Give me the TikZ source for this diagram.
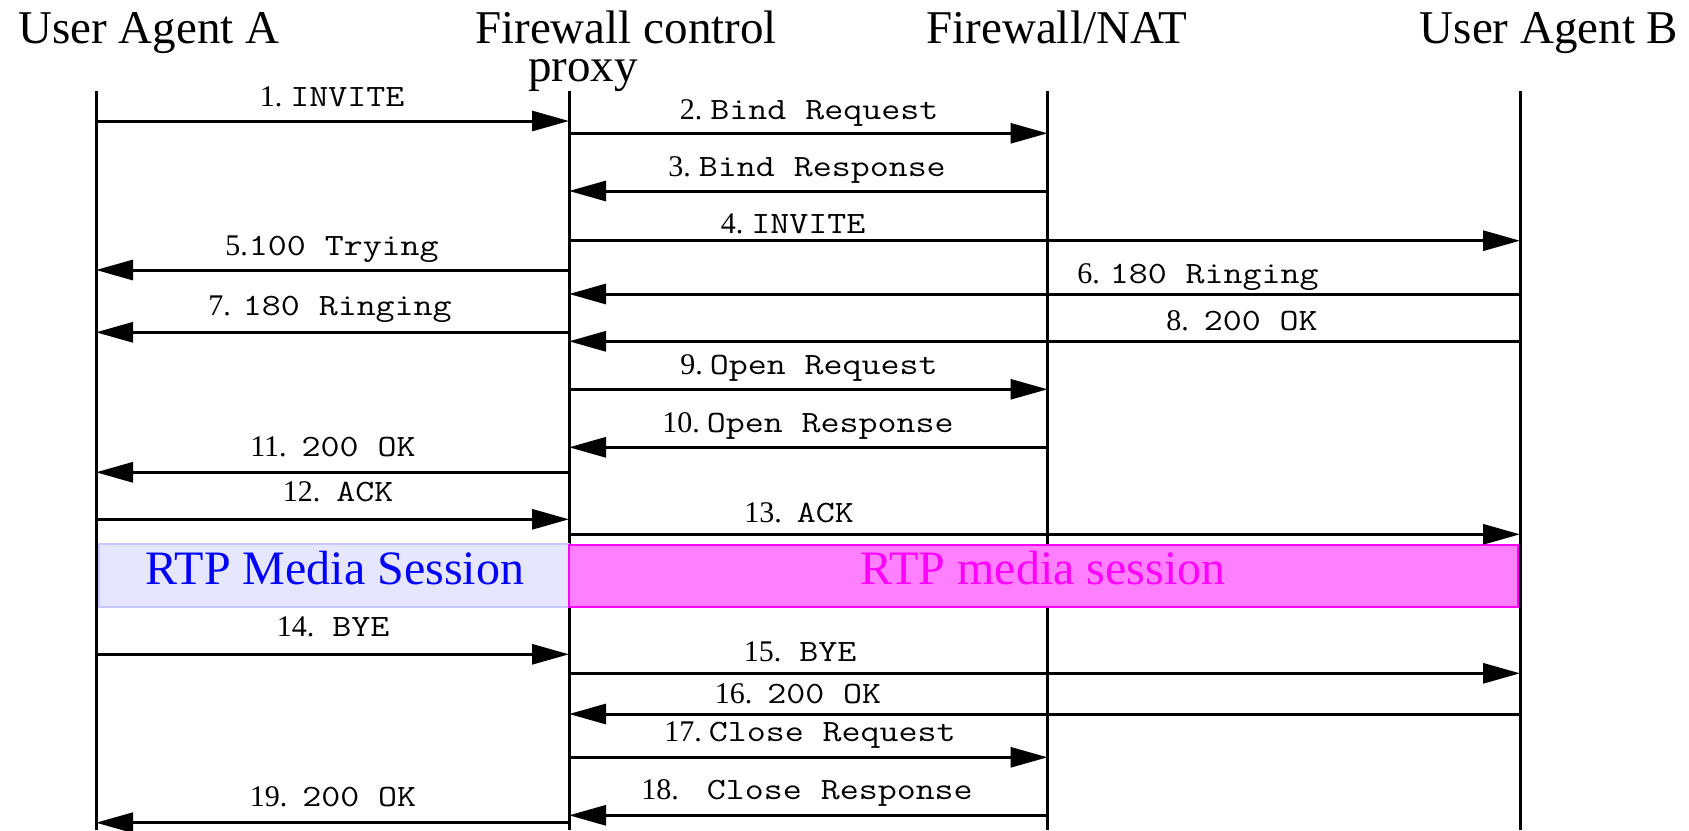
\documentclass[tikz,border=0pt]{standalone}
\usepackage{fontspec}
\setmainfont{Liberation Serif}
\usepackage{graphicx}
\usetikzlibrary{arrows.meta,calc}
\definecolor{rtpblfill}{HTML}{E6E6FF}
\definecolor{rtpbldraw}{HTML}{C8C8FF}
\definecolor{rtpblue}{HTML}{0000FF}
\definecolor{rtpmgfill}{HTML}{FF80FF}
\definecolor{rtpmg}{HTML}{FF00FF}
\newcommand\mlbl[3]{{\fontsize{30}{32}\selectfont #1}\hspace{#2}\scalebox{1.19}[1]{\fontsize{31}{33}\selectfont\ttfamily #3}}
\newcommand\msgarrow[3]{\draw[msg] ($(#1)+(0,#3)$) -- ($(#2)+(0,#3)$);}
\newcommand\msglabel[6]{\node[mlabel] (#1) at (#2,#3) {\mlbl{#4}{#5}{#6}};}
\begin{document}
\begin{tikzpicture}[x=1pt,y=-1pt,
  lifeline/.style={line width=3pt},
  msg/.style={line width=3pt,-{Triangle[length=37pt,width=20pt]}},
  head/.style={inner sep=0pt,anchor=base,font=\fontsize{47}{50}\selectfont},
  mlabel/.style={inner sep=0pt,anchor=base},
  rtptext/.style={inner sep=0pt,anchor=base,font=\fontsize{48}{50}\selectfont}]
\useasboundingbox (0,0) rectangle (1689,830);

% headings
\node[head] (hA) at (149,43) {User Agent A};
\node[head] (hP) at (626,43) {Firewall control};
\node[head] (hP2) at (583,81) {proxy};
\node[head] (hF) at (1057,43) {Firewall/NAT};
\node[head] (hB) at (1549,43) {User Agent B};

% lifelines
\coordinate (A) at (96,0);
\coordinate (P) at (569,0);
\coordinate (F) at (1047.5,0);
\coordinate (B) at (1520,0);
\foreach \l in {A,P,F,B}{
  \draw[lifeline] ($(\l)+(0,91)$) -- ($(\l)+(0,830)$);
}

% RTP boxes
\path[draw=rtpbldraw,fill=rtpblfill,line width=2pt] (98.6,544) rectangle (569,606.5);
\node[rtptext,text=rtpblue] (rtpA) at (335,584) {RTP Media Session};
\path[draw=rtpmg,fill=rtpmgfill,line width=2pt] (569,545) rectangle (1517.5,606.5);
\node[rtptext,text=rtpmg] (rtpB) at (1043,584) {RTP media session};

% messages
\msgarrow{A}{P}{121}
\msglabel{m1}{332}{106}{1.}{8pt}{INVITE}
\msgarrow{P}{F}{133.3}
\msglabel{m2}{809}{119}{2.}{8pt}{Bind Request}
\msgarrow{F}{P}{191}
\msglabel{m3}{807}{176.7}{3.}{8pt}{Bind Response}
\msgarrow{P}{B}{240.7}
\msglabel{m4}{793}{233}{4.}{8pt}{INVITE}
\msgarrow{P}{A}{270}
\msglabel{m5}{332}{255}{5.}{1pt}{100 Trying}
\msgarrow{B}{P}{294}
\msglabel{m6}{1198}{283}{6.}{10pt}{180 Ringing}
\msgarrow{P}{A}{332.3}
\msglabel{m7}{330}{315}{7.}{12pt}{180 Ringing}
\msgarrow{B}{P}{341.3}
\msglabel{m8}{1242}{330.7}{8.}{15pt}{200 OK}
\msgarrow{P}{F}{389.3}
\msglabel{m9}{809}{374.3}{9.}{7pt}{Open Request}
\msgarrow{F}{P}{447.3}
\msglabel{m10}{808}{432.7}{10.}{7pt}{Open Response}
\msgarrow{P}{A}{472.3}
\msglabel{m11}{333}{456}{11.}{15pt}{200 OK}
\msgarrow{A}{P}{519.3}
\msglabel{m12}{338}{501.7}{12.}{16pt}{ACK}
\msgarrow{P}{B}{534.3}
\msglabel{m13}{799}{522.7}{13.}{15pt}{ACK}
\msgarrow{A}{P}{654.3}
\msglabel{m14}{333}{636.7}{14.}{18pt}{BYE}
\msgarrow{P}{B}{673.3}
\msglabel{m15}{800}{661.7}{15.}{18pt}{BYE}
\msgarrow{B}{P}{714}
\msglabel{m16}{798}{703.3}{16.}{15pt}{200 OK}
\msgarrow{P}{F}{757.3}
\msglabel{m17}{810}{741.7}{17.}{7pt}{Close Request}
\msgarrow{F}{P}{815.3}
\msglabel{m18}{807}{799.3}{18.}{28pt}{Close Response}
\msgarrow{P}{A}{822.7}
\msglabel{m19}{333}{806}{19.}{15pt}{200 OK}
\end{tikzpicture}
\end{document}
